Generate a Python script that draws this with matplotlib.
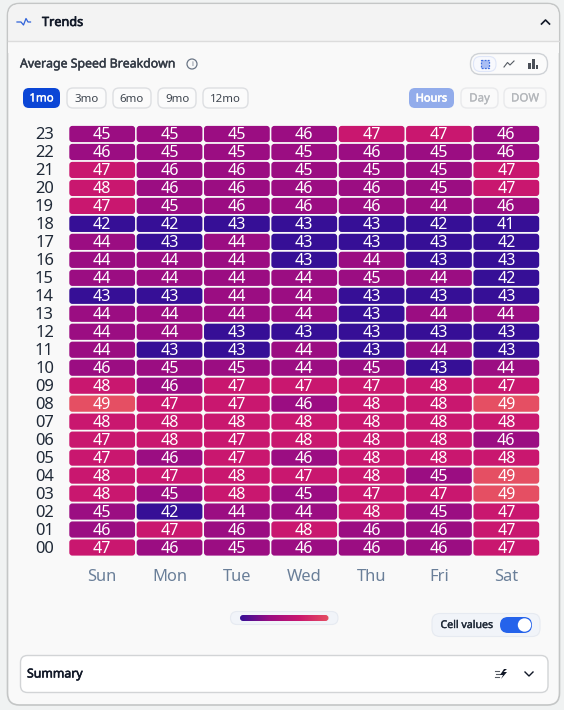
import numpy as np
import matplotlib
matplotlib.use("Agg")
import matplotlib.pyplot as plt
import matplotlib.patheffects as pe
from matplotlib.colors import BoundaryNorm, LinearSegmentedColormap, ListedColormap
from matplotlib.patches import Circle, FancyBboxPatch, Rectangle
from matplotlib.transforms import ScaledTranslation

plt.rcParams["font.family"] = ["Noto Sans", "DejaVu Sans"]

days = ["Sun", "Mon", "Tue", "Wed", "Thu", "Fri", "Sat"]
hours = [f"{h:02d}" for h in range(24)]

# average speed, one list per hour, Sun to Sat
speed = [
    [47, 46, 45, 46, 46, 46, 47],  # 00
    [46, 47, 46, 48, 46, 46, 47],
    [45, 42, 44, 44, 48, 45, 47],
    [48, 45, 48, 45, 47, 47, 49],
    [48, 47, 48, 47, 48, 45, 49],
    [47, 46, 47, 46, 48, 48, 48],
    [47, 48, 47, 48, 48, 48, 46],
    [48, 48, 48, 48, 48, 48, 48],
    [49, 47, 47, 46, 48, 48, 49],
    [48, 46, 47, 47, 47, 48, 47],
    [46, 45, 45, 44, 45, 43, 44],
    [44, 43, 43, 44, 43, 44, 43],
    [44, 44, 43, 43, 43, 43, 43],
    [44, 44, 44, 44, 43, 44, 44],
    [43, 43, 44, 44, 43, 43, 43],
    [44, 44, 44, 44, 45, 44, 42],
    [44, 44, 44, 43, 44, 43, 43],
    [44, 43, 44, 43, 43, 43, 42],
    [42, 42, 43, 43, 43, 42, 41],
    [47, 45, 46, 46, 46, 44, 46],
    [48, 46, 46, 46, 46, 45, 47],
    [47, 46, 46, 45, 45, 45, 47],
    [46, 45, 45, 45, 46, 45, 46],
    [45, 45, 45, 46, 47, 47, 46],  # 23
]

# colour classes of the heatmap
bucket_edges = [40.5, 43.5, 46.5, 48.5, 50.5]
bucket_colors = ["#360f96", "#9b0d82", "#c9176f", "#e54f63"]
cmap = ListedColormap(bucket_colors)
norm = BoundaryNorm(bucket_edges, cmap.N)

range_labels = ["1mo", "3mo", "6mo", "9mo", "12mo"]
range_spans = [(23, 60), (67, 106), (113, 151), (158, 196), (203, 248)]
group_labels = ["Hours", "Day", "DOW"]
group_spans = [(409, 454), (461, 498), (504, 546)]

W, H = 564, 710
PX = 0.72  # css px to pt at dpi 100

fig = plt.figure(figsize=(W / 100, H / 100), dpi=100, facecolor="#f0f2f2")

# page chrome, drawn in pixel coordinates
ui = fig.add_axes([0, 0, 1, 1], zorder=0)
ui.set_xlim(0, W)
ui.set_ylim(H, 0)
ui.axis("off")


def box(x0, y0, x1, y1, r, fc, ec="none", lw=1.0, z=1):
    p = FancyBboxPatch((x0, y0), x1 - x0, y1 - y0, boxstyle=f"round,pad=0,rounding_size={r}",
                       fc=fc, ec=ec, lw=lw, zorder=z)
    ui.add_patch(p)
    return p


def label(x, y, s, px, color, heavy=0.0, ha="left"):
    # the installed Noto Sans has one weight, so a thin stroke thickens it
    t = ui.text(x, y, s, fontsize=px * PX, color=color, ha=ha, va="center", zorder=5)
    if heavy:
        t.set_path_effects([pe.withStroke(linewidth=heavy, foreground=color)])
    return t


# card, header and body
box(7.5, 3.5, 559.5, 705, 12, "#f9f9f9", "#c4c6c6", 1.2)
box(8.2, 4.2, 558.8, 50, 11, "#f3f3f3")
ui.add_patch(Rectangle((8.2, 41), 550.6, 12, fc="#f9f9f9", ec="none", zorder=1.1))
ui.plot([8, 559], [40.5, 40.5], color="#dcdcdc", lw=1, zorder=1.2)

ui.plot([17, 21, 23.5, 26, 28, 30.5], [22, 22, 25, 18.5, 22, 22], color="#2f62d9", lw=0.9, zorder=3)
label(42, 22.5, "Trends", 12.7, "#111827", 0.45)
ui.plot([541.5, 545.5, 549.5], [24, 20, 24], color="#111827", lw=1.2, zorder=3)

label(20, 64, "Average Speed Breakdown", 12.3, "#333a45", 0.3)
ui.add_patch(Circle((192, 64), 5, fc="none", ec="#6b7686", lw=0.9, zorder=3))
label(192, 64, "i", 7.5, "#6b7686", ha="center")

# chart type switcher
box(470.5, 53.5, 547.5, 74.5, 10, "#fbfbfb", "#cfd2d6", 1.0, 2)
box(473.5, 56.5, 496, 71.5, 7, "#f8f9fd", "#dfe6f8", 0.8, 3)
ui.add_patch(Rectangle((481, 60), 8, 8, fc="#a9bef4", ec="#3f6fe0", lw=0.9, ls=(0, (1.5, 1)), zorder=4))
ui.plot([504, 507.5, 510, 514], [67, 62.5, 65, 61], color="#555b63", lw=0.8, zorder=3)
for bx, bh in zip([529.5, 533.5, 537], [6, 10, 4]):
    ui.add_patch(Rectangle((bx - 1.4, 69 - bh), 2.8, bh, fc="#4a4f57", ec="none", zorder=3))

# time range buttons
for i, (lab, (x0, x1)) in enumerate(zip(range_labels, range_spans)):
    on = i == 0
    box(x0, 88, x1, 108, 6, "#0b46d6" if on else "#fbfbfb", "none" if on else "#dddfe2", 1.0, 2)
    label((x0 + x1) / 2, 99, lab, 11.5, "white" if on else "#3f4650", 0.25 if on else 0, ha="center")

for i, (lab, (x0, x1)) in enumerate(zip(group_labels, group_spans)):
    on = i == 0
    box(x0, 88, x1, 108, 6, "#92aceb" if on else "#fafafa", "none" if on else "#e9eaec", 1.0, 2)
    label((x0 + x1) / 2, 99, lab, 11 if on else 11.5, "white" if on else "#b4b7bb", 0.45 if on else 0.15, ha="center")

# heatmap
ax = fig.add_axes([68.5 / W, 1 - 556.5 / H, 471.5 / W, 431.5 / H], zorder=2)
ax.patch.set_alpha(0)
ax.set_xlim(0, len(days))
ax.set_ylim(0, len(hours))
for s in ax.spines.values():
    s.set_visible(False)
ax.set_xticks(np.arange(len(days)) + 0.5, days)
ax.set_yticks(np.arange(len(hours)) + 0.5, hours)
ax.tick_params(length=0)
ax.tick_params(axis="x", labelsize=16.5 * PX, labelcolor="#6a7f99", pad=9)
ax.tick_params(axis="y", labelsize=16.5 * PX, labelcolor="#1f2937", pad=10.5)
up = ScaledTranslation(0, 1 / 100, fig.dpi_scale_trans)
for t in ax.get_yticklabels():
    t.set_transform(t.get_transform() + up)

# data units per pixel, so cell corners stay round
ux = len(days) / 471.5
uy = len(hours) / 431.5
for r, row in enumerate(speed):
    for c, val in enumerate(row):
        ax.add_patch(FancyBboxPatch((c + 0.5 * ux * 1.6, r + 0.5 * uy * 1.8), 1 - 1.6 * ux, 1 - 1.8 * uy,
                                    boxstyle=f"round,pad=0,rounding_size={3 * ux}",
                                    mutation_aspect=uy / ux, fc=cmap(norm(val)), ec="none"))
        ax.text(c + 0.5, r + 0.5 + uy, str(val), color="white", fontsize=16 * PX, ha="center", va="center_baseline")

# colour legend
box(230.5, 611.5, 338, 624.5, 6.5, "#f1f4f9", "#e6eaf1", 0.8, 2)
ramp_cmap = LinearSegmentedColormap.from_list("speed", bucket_colors)
ramp = ui.imshow(np.linspace(0, 1, 200).reshape(1, -1), extent=(240, 328.5, 621, 615), cmap=ramp_cmap,
                 aspect="auto", zorder=3)
clip = FancyBboxPatch((240, 615), 88.5, 6, boxstyle="round,pad=0,rounding_size=3", fc="none", ec="none",
                      transform=ui.transData)
ui.add_patch(clip)
ramp.set_clip_path(clip)
ui.set_xlim(0, W)
ui.set_ylim(H, 0)

# cell values toggle
box(432, 613.5, 540, 636.5, 8, "#f1f4f9", "#e6eaf1", 0.8, 2)
label(440.5, 625.5, "Cell values", 10.6, "#1f2937", 0.25)
box(500, 617, 532, 633, 8, "#2563eb", z=3)
ui.add_patch(Circle((524.5, 625), 6.7, fc="white", ec="none", zorder=4))

# summary row
box(20.5, 655.5, 548, 692.5, 7, "white", "#d2d4d6", 1.0, 2)
label(27, 674, "Summary", 12.3, "#111827", 0.4)
for ly, lx in zip([671, 674, 677], [495, 496, 495]):
    ui.plot([lx, lx + 4], [ly, ly], color="#555b63", lw=0.8, zorder=3)
ui.fill([504, 500, 503, 501, 507, 503.5, 507], [669, 675, 675, 679, 672, 672, 669], color="#111827", lw=0, zorder=3)
ui.plot([525, 529, 533], [672, 676, 672], color="#111827", lw=1.0, zorder=3)

fig.savefig("out.png", dpi=100, facecolor=fig.get_facecolor())
